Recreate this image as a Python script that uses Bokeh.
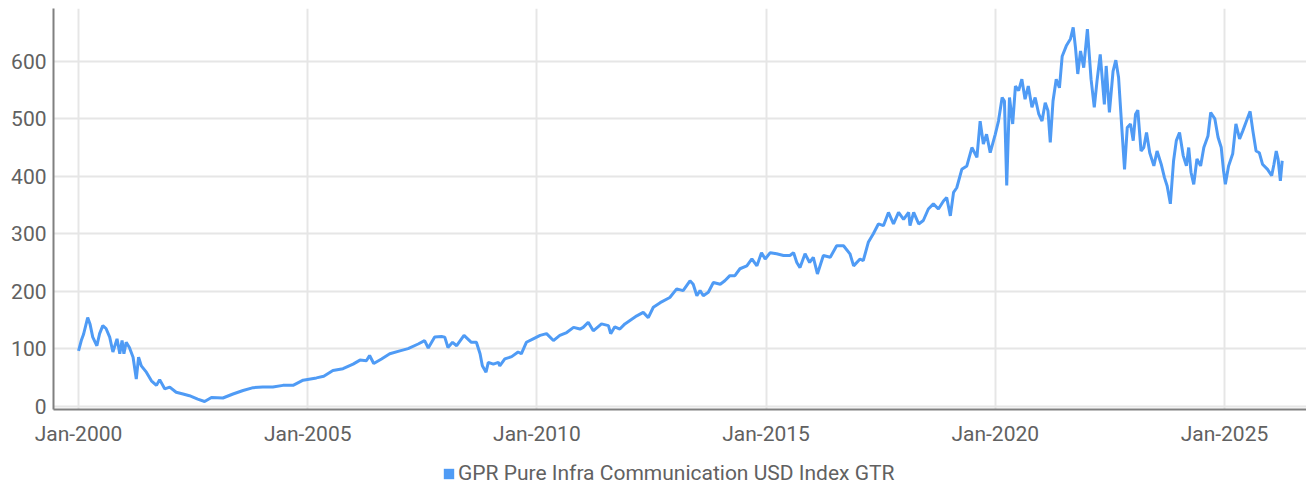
import numpy as np
from bokeh.plotting import figure
from bokeh.layouts import column
from bokeh.models import FixedTicker, Legend, LegendItem, Range1d, ColumnDataSource
from bokeh.embed import file_html
from bokeh.resources import INLINE

series_name = "GPR Pure Infra Communication USD Index GTR"

# fractional years
years = [
    2000.00, 2000.06, 2000.11, 2000.20, 2000.25, 2000.31, 2000.40, 2000.46, 2000.53, 2000.60,
    2000.68, 2000.75, 2000.84, 2000.90, 2000.95, 2000.99, 2001.04, 2001.11, 2001.19, 2001.26,
    2001.31, 2001.37, 2001.48, 2001.59, 2001.70, 2001.77, 2001.88, 2001.99, 2002.13, 2002.28,
    2002.42, 2002.60, 2002.75, 2002.90, 2003.15, 2003.37, 2003.59, 2003.81, 2004.02, 2004.24,
    2004.46, 2004.68, 2004.90, 2005.19, 2005.35, 2005.55, 2005.77, 2005.99, 2006.14, 2006.28,
    2006.35, 2006.44, 2006.61, 2006.79, 2007.01, 2007.19, 2007.41, 2007.55, 2007.63, 2007.77,
    2007.92, 2007.99, 2008.06, 2008.16, 2008.25, 2008.41, 2008.57, 2008.68, 2008.76, 2008.81,
    2008.89, 2008.94, 2009.05, 2009.16, 2009.19, 2009.30, 2009.45, 2009.59, 2009.66, 2009.77,
    2009.92, 2010.07, 2010.21, 2010.36, 2010.50, 2010.65, 2010.80, 2010.94, 2011.01, 2011.12,
    2011.23, 2011.41, 2011.56, 2011.61, 2011.70, 2011.81, 2011.92, 2012.03, 2012.18, 2012.32,
    2012.43, 2012.54, 2012.69, 2012.90, 2013.05, 2013.19, 2013.34, 2013.41, 2013.49, 2013.56,
    2013.63, 2013.74, 2013.85, 2014.00, 2014.10, 2014.21, 2014.32, 2014.43, 2014.58, 2014.69,
    2014.80, 2014.90, 2014.98, 2015.09, 2015.23, 2015.38, 2015.52, 2015.60, 2015.67, 2015.74,
    2015.85, 2015.95, 2016.03, 2016.12, 2016.25, 2016.40, 2016.54, 2016.69, 2016.83, 2016.91,
    2017.05, 2017.12, 2017.23, 2017.34, 2017.45, 2017.56, 2017.67, 2017.78, 2017.89, 2018.00,
    2018.11, 2018.14, 2018.22, 2018.33, 2018.43, 2018.54, 2018.65, 2018.76, 2018.87, 2018.94,
    2019.02, 2019.09, 2019.16, 2019.27, 2019.38, 2019.49, 2019.60, 2019.67, 2019.74, 2019.81,
    2019.89, 2020.00, 2020.07, 2020.15, 2020.20, 2020.25, 2020.31, 2020.38, 2020.44, 2020.51,
    2020.58, 2020.65, 2020.72, 2020.80, 2020.87, 2020.95, 2021.02, 2021.09, 2021.15, 2021.20,
    2021.26, 2021.33, 2021.40, 2021.46, 2021.55, 2021.64, 2021.70, 2021.75, 2021.80, 2021.86,
    2021.93, 2022.01, 2022.09, 2022.16, 2022.22, 2022.29, 2022.38, 2022.42, 2022.49, 2022.57,
    2022.63, 2022.69, 2022.76, 2022.82, 2022.88, 2022.95, 2023.01, 2023.06, 2023.11, 2023.18,
    2023.24, 2023.30, 2023.37, 2023.46, 2023.53, 2023.62, 2023.69, 2023.75, 2023.82, 2023.89,
    2023.95, 2024.02, 2024.10, 2024.17, 2024.22, 2024.27, 2024.33, 2024.40, 2024.48, 2024.55,
    2024.64, 2024.70, 2024.79, 2024.86, 2024.93, 2024.98, 2025.02, 2025.09, 2025.18, 2025.25,
    2025.33, 2025.40, 2025.47, 2025.56, 2025.62, 2025.69, 2025.76, 2025.83, 2025.94, 2026.03,
    2026.08, 2026.13, 2026.17, 2026.22, 2026.26,
]

index_values = [
    96, 114, 125, 154, 143, 120, 105, 126, 140, 135,
    120, 94, 117, 91, 114, 91, 111, 102, 85, 47,
    85, 70, 59, 44, 36, 46, 30, 33, 24, 21,
    18, 12, 8, 15, 14, 21, 27, 32, 33, 33,
    36, 36, 45, 49, 52, 62, 65, 73, 80, 79,
    88, 74, 82, 91, 96, 100, 108, 114, 101, 120,
    121, 120, 102, 111, 105, 123, 111, 111, 91, 70,
    59, 76, 73, 76, 70, 82, 86, 94, 91, 111,
    117, 123, 126, 114, 123, 128, 137, 134, 137, 146,
    131, 143, 140, 126, 138, 134, 143, 149, 157, 163,
    154, 172, 180, 189, 204, 201, 218, 212, 192, 201,
    192, 198, 215, 212, 218, 227, 227, 239, 244, 256,
    244, 267, 256, 267, 265, 262, 262, 267, 250, 241,
    265, 250, 259, 230, 262, 259, 279, 279, 265, 244,
    256, 253, 285, 300, 317, 314, 337, 317, 337, 325,
    337, 314, 337, 317, 323, 343, 352, 343, 357, 363,
    331, 372, 380, 412, 418, 450, 433, 496, 456, 473,
    441, 473, 496, 537, 531, 384, 537, 491, 557, 549,
    569, 534, 557, 520, 537, 508, 496, 528, 514, 459,
    531, 569, 554, 609, 627, 639, 659, 624, 578, 618,
    589, 656, 569, 520, 566, 612, 525, 592, 511, 583,
    602, 572, 485, 412, 485, 491, 462, 508, 515, 444,
    450, 476, 441, 418, 444, 421, 398, 383, 352, 427,
    462, 476, 436, 418, 450, 407, 386, 430, 418, 450,
    470, 511, 500, 468, 450, 410, 386, 418, 439, 491,
    465, 479, 494, 513, 479, 444, 441, 421, 412, 401,
    421, 444, 430, 392, 427,
]

x_tick_years = [2000, 2005, 2010, 2015, 2020, 2025]
x_tick_labels = ["Jan-2000", "Jan-2005", "Jan-2010", "Jan-2015", "Jan-2020", "Jan-2025"]
y_ticks = [0, 100, 200, 300, 400, 500, 600]

FONT = "Roboto"
TEXT_COLOR = "#616161"
LINE_COLOR = "#4f9bf5"
GRID_COLOR = "#e6e6e6"
AXIS_COLOR = "#808080"
FS = "21px"

p = figure(
    width=1306, height=450,
    x_range=Range1d(1999.454, 2026.79),
    y_range=Range1d(-6, 692),
    min_border_left=53, min_border_right=0, min_border_top=8, min_border_bottom=41,
    output_backend="svg", toolbar_location=None,
)
p.outline_line_color = None
p.background_fill_color = "white"
p.border_fill_color = "white"

src = ColumnDataSource(dict(x=years, y=index_values))
p.line("x", "y", source=src, line_color=LINE_COLOR, line_width=3)

# axes
p.xaxis.ticker = FixedTicker(ticks=x_tick_years)
p.xaxis.major_label_overrides = {yr: lab for yr, lab in zip(x_tick_years, x_tick_labels)}
p.yaxis.ticker = FixedTicker(ticks=y_ticks)
for ax in (p.xaxis[0], p.yaxis[0]):
    ax.axis_line_color = AXIS_COLOR
    ax.axis_line_width = 2
    ax.major_tick_line_color = None
    ax.minor_tick_line_color = None
    ax.major_tick_out = 0
    ax.major_tick_in = 0
    ax.major_label_text_font = FONT
    ax.major_label_text_font_size = FS
    ax.major_label_text_color = TEXT_COLOR
p.xaxis.major_label_standoff = 12
p.yaxis.major_label_standoff = 7

# grids
p.xgrid.ticker = FixedTicker(ticks=x_tick_years)
p.ygrid.ticker = FixedTicker(ticks=y_ticks)
for g in (p.xgrid[0], p.ygrid[0]):
    g.grid_line_color = GRID_COLOR
    g.grid_line_width = 2

# legend strip below the chart
leg = figure(
    width=1306, height=40,
    x_range=Range1d(0, 1), y_range=Range1d(0, 1),
    min_border_left=0, min_border_right=0, min_border_top=0, min_border_bottom=0,
    output_backend="svg", toolbar_location=None,
)
leg.axis.visible = False
leg.grid.visible = False
leg.outline_line_color = None
leg.border_fill_color = "white"
leg.background_fill_color = "white"
sw = leg.quad(left=[np.nan], right=[np.nan], top=[np.nan], bottom=[np.nan],
              fill_color=LINE_COLOR, line_color=None)

legend = Legend(
    items=[LegendItem(label=series_name, renderers=[sw])],
    location=(389, 5),
    orientation="horizontal",
    glyph_width=13, glyph_height=13,
    label_standoff=3,
    padding=0, margin=0, spacing=0,
    border_line_color=None,
    background_fill_alpha=0,
    label_text_font=FONT,
    label_text_font_size=FS,
    label_text_color=TEXT_COLOR,
)
leg.add_layout(legend, "center")

layout = column(p, leg, spacing=0)
open("out.html", "w").write(file_html(layout, INLINE))
